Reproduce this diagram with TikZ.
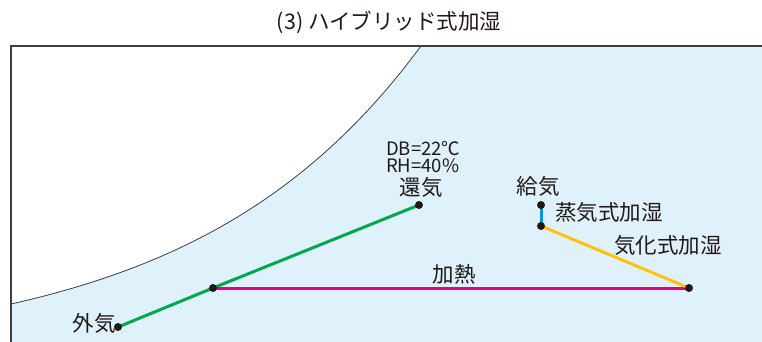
\documentclass[tikz,border=0pt]{standalone}
\usepackage{fontspec}
\setmainfont{Noto Sans CJK JP}
\definecolor{skyfill}{HTML}{DFF1FA}
\definecolor{framegray}{HTML}{3E3E3E}
\definecolor{mixgreen}{HTML}{00A650}
\definecolor{heatmag}{HTML}{E4007F}
\definecolor{evapyel}{HTML}{FFC20E}
\definecolor{steamblue}{HTML}{0095D9}
\definecolor{dotblack}{HTML}{231815}
\definecolor{txt}{HTML}{231815}
\tikzset{
  lbl/.style={inner sep=0pt, text=txt, font=\fontsize{21.5}{24}\selectfont},
  small/.style={inner sep=0pt, text=txt, font=\fontsize{18.5}{20}\selectfont, anchor=base west},
  proc/.style={line width=3pt},
  dot/.style={fill=dotblack},
}
\begin{document}
\begin{tikzpicture}[x=1pt,y=-1pt]
\useasboundingbox (0,0) rectangle (762,342);
\fill[skyfill] (11,304) -- plot[domain=11:421,samples=90] (\x,{355-48.6*exp(0.00439*\x)}) -- (762,46) -- (762,342) -- (11,342) -- cycle;
\draw[framegray, line width=0.8pt] plot[domain=11:421,samples=90] (\x,{355-48.6*exp(0.00439*\x)});
\draw[framegray, line width=2pt] (11,343) -- (11,46) -- (763,46);

\node[lbl] (title) at (389,22) {(3) ハイブリッド式加湿};

\coordinate (oa) at (118,327);
\coordinate (mx) at (213,288);
\coordinate (ra) at (419,205);
\coordinate (sa) at (541,205);
\coordinate (st) at (541,226);
\coordinate (ht) at (689,288);

\draw[proc, mixgreen] (oa) -- (mx) -- (ra);
\draw[proc, heatmag] (mx) -- (ht);
\draw[proc, evapyel] (ht) -- (st);
\draw[proc, steamblue] (st) -- (sa);
\foreach \p in {oa,mx,ra,sa,st,ht} \fill[dot] (\p) circle (4pt);

\node[small] (db) at (386,155) {DB=22℃};
\node[small] (rh) at (386,172) {RH=40\%};
\node[lbl] (ral) at (421,187) {還気};
\node[lbl] (sal) at (538,186) {給気};
\node[lbl] (stl) at (609,212) {蒸気式加湿};
\node[lbl] (evl) at (668,245) {気化式加湿};
\node[lbl] (htl) at (454,274) {加熱};
\node[lbl] (oal) at (94,323) {外気};
\end{tikzpicture}
\end{document}
